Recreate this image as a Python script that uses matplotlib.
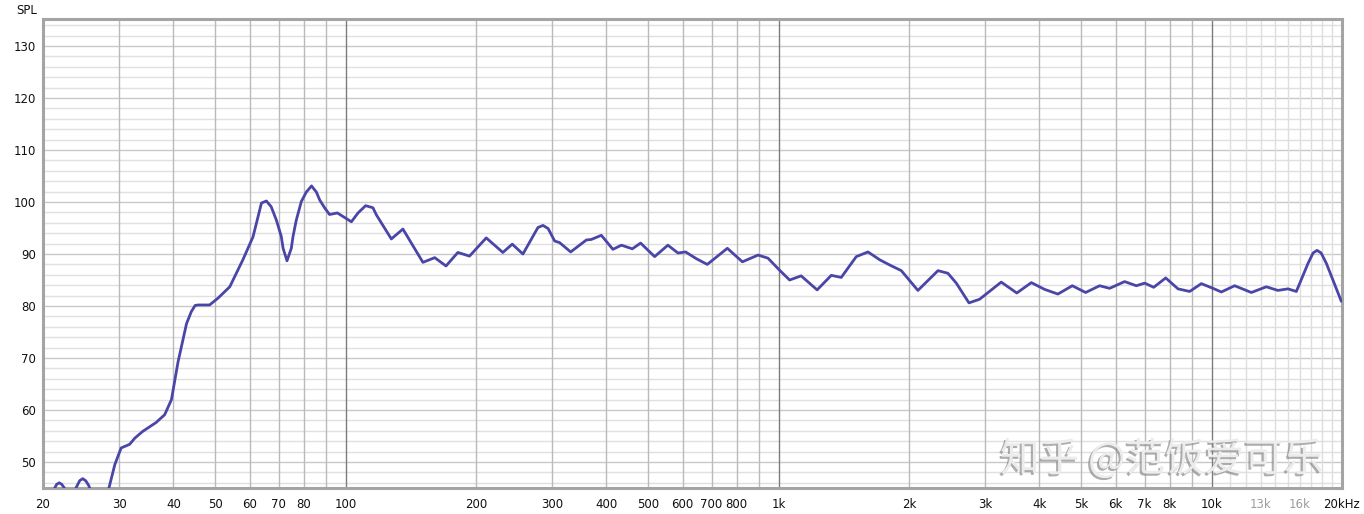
import numpy as np
import matplotlib
matplotlib.use("Agg")
import matplotlib.pyplot as plt
import matplotlib.patheffects as pe

# ---- data ----
freq_hz = [20, 21.0, 21.3, 21.5, 21.8, 22.1, 22.4, 22.8, 23.6, 24.0, 24.3, 24.7, 25.1, 25.5, 25.9,
           27.0, 28.4, 29.3, 30.3, 31.7, 32.6, 34.0, 35.3, 36.5,
           38.2, 39.6, 40.0, 40.6, 41.0, 42.1, 42.9, 44.0, 44.9, 45.6, 48.5, 50.7, 54.0, 57.9,
           61.1, 63.9, 65.6, 67.3, 69.2, 71.0, 71.7, 73.2, 74.9, 75.6, 76.9, 79.0, 81.1, 83.4,
           85.6, 87.1, 89.4, 91.8, 95.7, 103.1, 106.8, 111.2, 115.6, 117.8, 127.5,
           135.6, 150.8, 160.6, 170.5, 181.6, 193.2, 211.2, 230.7, 242.5, 256.7, 278, 285.6,
           293.5, 303.9,
           311.9, 330.9, 359.7, 369.3, 389.5, 414.2, 433.4, 459.2, 480, 517.1, 554.8, 585.3,
           609.6, 645.6, 684.1, 761.2, 824.6, 896.3, 944.9, 1004.6, 1060, 1127, 1227, 1323, 1395,
           1511, 1608, 1711, 1804, 1920, 2097, 2333, 2460, 2572, 2751, 2911, 3266, 3548, 3833,
           4113, 4415, 4766, 5117, 5511, 5813, 6295, 6699, 7003, 7348, 7833, 8362, 8896, 9467,
           10070, 10530, 11300, 12350, 13374, 14224, 15005, 15690, 16694, 17150, 17512, 17900,
           18405, 19930]
spl_db = [42.0, 44.0, 45.0, 45.7, 46.0, 45.7, 45.0, 44.0, 44.3, 45.5, 46.4, 46.8, 46.4, 45.5, 44.0,
          42.0, 45.0, 49.5, 52.7, 53.4, 54.6, 55.9, 56.8, 57.6,
          59.1, 62.0, 64.1, 67.1, 69.2, 73.5, 76.6, 78.9, 80.1, 80.2, 80.2, 81.5, 83.7, 88.9,
          93.3, 99.8, 100.2, 99.1, 96.5, 93.4, 91.1, 88.7, 91.1, 93.4, 96.5, 100.1, 101.9, 103.1,
          101.9, 100.4, 98.9, 97.6, 97.9, 96.2, 97.9, 99.3, 98.9, 97.5, 92.9,
          94.8, 88.4, 89.3, 87.7, 90.3, 89.6, 93.1, 90.3, 91.9, 90.0, 95.1, 95.5,
          94.9, 92.5,
          92.2, 90.4, 92.7, 92.8, 93.6, 90.9, 91.7, 91.0, 92.1, 89.5, 91.7, 90.2,
          90.4, 89.1, 88.0, 91.1, 88.5, 89.8, 89.2, 86.9, 85.0, 85.8, 83.1, 85.9, 85.5,
          89.5, 90.4, 88.9, 87.9, 86.8, 83.0, 86.8, 86.3, 84.4, 80.6, 81.3, 84.6, 82.5, 84.5,
          83.2, 82.3, 83.9, 82.6, 83.9, 83.4, 84.7, 83.9, 84.4, 83.6, 85.4, 83.3, 82.8, 84.3,
          83.4, 82.7, 83.9, 82.6, 83.7, 83.0, 83.3, 82.8, 88.2, 90.2, 90.7, 90.2,
          88.2, 80.9]

xtick_values = [20, 30, 40, 50, 60, 70, 80, 100, 200, 300, 400, 500, 600, 700, 800,
                1000, 2000, 3000, 4000, 5000, 6000, 7000, 8000, 10000, 13000, 16000, 20000]
xtick_labels = ["20", "30", "40", "50", "60", "70", "80", "100", "200", "300", "400", "500",
                "600", "700", "800", "1k", "2k", "3k", "4k", "5k", "6k", "7k", "8k", "10k",
                "13k", "16k", "20kHz"]
ytick_values = [50, 60, 70, 80, 90, 100, 110, 120, 130]

# ---- figure ----
fig = plt.figure(figsize=(13.64, 5.14), dpi=100)
ax = fig.add_axes([43 / 1364, 1 - 488 / 514, (1342 - 43) / 1364, (488 - 19) / 514])
ax.set_xscale("log")
ax.set_xlim(20, 20000)
ax.set_ylim(45, 135.2)

# grid lines
for y in range(46, 136, 2):
    c = "#c8c8c8" if y % 10 == 0 else "#e0e0e0"
    ax.axhline(y, color=c, lw=1.0, zorder=0)
for dec in [10, 100, 1000]:
    for m in range(2, 10):
        f = m * dec
        if 20 <= f <= 20000:
            ax.axvline(f, color="#bababa", lw=1.0, zorder=0)
for f in range(11000, 20000, 1000):
    ax.axvline(f, color="#dedede", lw=1.0, zorder=0)
for f in [100, 1000, 10000]:
    ax.axvline(f, color="#7c7c7c", lw=1.0, zorder=0)

ax.plot(freq_hz, spl_db, color="#4a46a8", lw=2.0, solid_joinstyle="round",
        solid_capstyle="round", zorder=3)

# ticks
ax.set_xticks(xtick_values)
ax.set_xticklabels(xtick_labels)
ax.xaxis.set_minor_locator(matplotlib.ticker.NullLocator())
ax.set_yticks(ytick_values)
ax.tick_params(axis="both", length=0, labelsize=8.5, colors="#111111")
ax.tick_params(axis="x", pad=7)
ax.tick_params(axis="y", pad=5)
for lbl in ax.get_xticklabels():
    if lbl.get_text() in ("13k", "16k"):
        lbl.set_color("#9c9c9c")

for s in ax.spines.values():
    s.set_color("#a4a4a4")
    s.set_linewidth(2.2)

fig.text(16 / 1364, 1 - 10.5 / 514, "SPL", fontsize=8.5, va="center", ha="left", color="#111111")

# watermark
ax.text(1000 / 1364, 1 - 460 / 514, "知乎 @范饭爱可乐", transform=fig.transFigure,
        family=["Noto Sans CJK SC", "DejaVu Sans"], fontsize=28.5, color="#ececec",
        ha="left", va="center", zorder=5,
        path_effects=[pe.SimplePatchShadow(offset=(-1.5, -1.5), shadow_rgbFace="#8a8a8a", alpha=0.7),
                      pe.Normal()])

fig.savefig("out.png", dpi=100, facecolor="white")
